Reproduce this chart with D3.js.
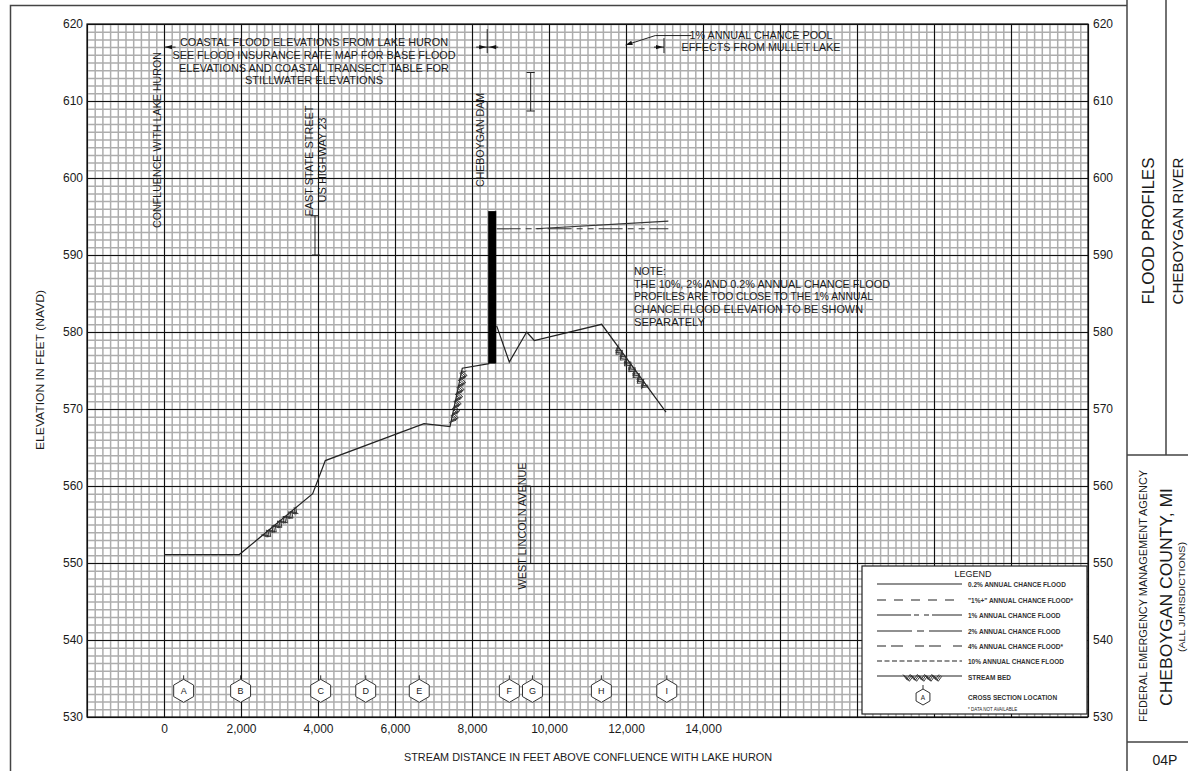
<!DOCTYPE html>
<html><head><meta charset="utf-8">
<script src="https://cdn.jsdelivr.net/npm/d3@7"></script>
<style>
body{margin:0;background:#fff}
svg{display:block;font-family:"Liberation Sans",Arial,sans-serif}
</style></head><body>
<svg id="chart" width="1188" height="771"></svg>
<script>
// Cheboygan River flood profile: stream distance (ft above confluence) and elevation (ft NAVD)
const profileDist = [0, 1956, 3862, 4190, 6753, 7429, 7748, 8449, null, 8641, 8969, 9420, 9618, 11368, 13039];
const profileElev = [551.1, 551.1, 559.0, 563.3, 568.1, 567.7, 575.3, 575.9, null, 580.8, 576.1, 580.0, 578.9, 581.0, 569.6];

// Pool effects above the dam
const poolDist = [8640, 13100];
const poolElev = [593.4, 593.4];
const poolRiseDist = [9650, 13100];
const poolRiseElev = [593.4, 594.4];

// Cheboygan Dam extent
const damDist = [8420, 8630];
const damElev = [575.9, 595.7];

// Stream bed hatching extents (ft)
const bedHatch = [[2540, 3450], [7450, 7740], [11770, 12570]];

// Cross sections
const xsLetters = ["A", "B", "C", "D", "E", "F", "G", "H", "I"];
const xsDist = [510, 1990, 4070, 5240, 6630, 8970, 9570, 11360, 13060];

// Structures: [distance, low elev, high elev]
const bridgeEastState = [3922, 590.0, 595.1];
const bridgeLincoln = [9524, 550.0, 560.0];
const markerUpper = [9524, 608.7, 613.7];
const damLeader = [8395, 600.0, 610.0];

// Axis ticks
const elevTicks = d3.range(530, 621, 10);
const distTicks = d3.range(0, 14001, 2000);

// Legend rows
const legendLabels = ["0.2% ANNUAL CHANCE FLOOD", "\"1%+\" ANNUAL CHANCE FLOOD*", "1% ANNUAL CHANCE FLOOD",
  "2% ANNUAL CHANCE FLOOD", "4% ANNUAL CHANCE FLOOD*", "10% ANNUAL CHANCE FLOOD"];
const legendDash = [null, "9,8", "34,3,5,5,5,3", "35,5,7,5", "9,5,12,12", "5,2.5"];

const svg = d3.select("#chart");
const x = d3.scaleLinear().domain([-2000, 24000]).range([87, 1088]);
const y = d3.scaleLinear().domain([530, 620]).range([717, 24]);
const [x0, x1] = x.range(), [y1, y0] = y.range();
const ink = "#1a1a1a";

// ---------- sheet frame ----------
const frame = svg.append("g").attr("stroke", "#444").attr("stroke-width", 1.5).attr("fill", "none");
frame.append("path").attr("d", "M10.5,771V5.5H1127");
frame.append("path").attr("d", "M1127,0V771M1166,0V455M1127,455H1188M1127,742H1188");

// ---------- grid ----------
const grid = svg.append("g");
function gridX(vals, color, w) {
  grid.append("g").attr("transform", `translate(0,${y1})`)
    .call(d3.axisBottom(x).tickValues(vals).tickSize(-(y1 - y0)).tickFormat(""))
    .call(g => g.select(".domain").remove())
    .selectAll("line").attr("stroke", color).attr("stroke-width", w);
}
function gridY(vals, color, w) {
  grid.append("g").attr("transform", `translate(${x0},0)`)
    .call(d3.axisLeft(y).tickValues(vals).tickSize(-(x1 - x0)).tickFormat(""))
    .call(g => g.select(".domain").remove())
    .selectAll("line").attr("stroke", color).attr("stroke-width", w);
}
gridX(d3.range(-2000, 24001, 200), "#adadad", 1.5);
gridY(d3.range(530, 621, 1), "#adadad", 1.5);
gridX(d3.range(-2000, 24001, 2000), "#111", 1);
gridY(elevTicks, "#111", 1);
svg.append("rect").attr("x", x0).attr("y", y0).attr("width", x1 - x0).attr("height", y1 - y0)
  .attr("fill", "none").attr("stroke", "#111").attr("stroke-width", 1.2);

// ---------- axes labels ----------
function styleAxis(g) {
  g.select(".domain").remove();
  g.selectAll("text").attr("font-size", 12).attr("fill", ink).attr("font-family", "Liberation Sans, Arial, sans-serif");
}
svg.append("g").attr("transform", `translate(${x0},0)`)
  .call(d3.axisLeft(y).tickValues(elevTicks).tickSize(0).tickPadding(4)).call(styleAxis);
svg.append("g").attr("transform", `translate(${x1},0)`)
  .call(d3.axisRight(y).tickValues(elevTicks).tickSize(0).tickPadding(5)).call(styleAxis);
svg.append("g").attr("transform", `translate(0,${y1})`)
  .call(d3.axisBottom(x).tickValues(distTicks).tickSize(0).tickPadding(7).tickFormat(d3.format(","))).call(styleAxis);

// text helper
function label(txt, px, py, size, len, rot, anchor, g) {
  const t = (g || svg).append("text")
    .attr("transform", `translate(${px},${py})` + (rot ? " rotate(-90)" : ""))
    .attr("font-size", size).attr("fill", ink)
    .attr("text-anchor", anchor || "middle").attr("dominant-baseline", "central")
    .text(txt);
  if (len) t.attr("textLength", len).attr("lengthAdjust", "spacingAndGlyphs");
  return t;
}
label("ELEVATION IN FEET (NAVD)", 40, 370, 10.5, 160, true);
label("STREAM DISTANCE IN FEET ABOVE CONFLUENCE WITH LAKE HURON", 588, 757, 10.5, 368);

// ---------- profile ----------
const pts = profileDist.map((d, i) => [d, profileElev[i]]);
const line = d3.line().defined(d => d[0] != null).x(d => x(d[0])).y(d => y(d[1]));
svg.append("path").attr("d", line(pts)).attr("fill", "none").attr("stroke", "#222").attr("stroke-width", 1.2);

// dam
svg.append("rect").attr("x", x(damDist[0])).attr("y", y(damElev[1]))
  .attr("width", x(damDist[1]) - x(damDist[0])).attr("height", y(damElev[0]) - y(damElev[1])).attr("fill", "#000");

// pool lines above dam
svg.append("path").attr("d", line(poolDist.map((d, i) => [d, poolElev[i]])))
  .attr("fill", "none").attr("stroke", "#333").attr("stroke-width", 1.1).attr("stroke-dasharray", "24,5,6,5,6,5");
svg.append("path").attr("d", line(poolRiseDist.map((d, i) => [d, poolRiseElev[i]])))
  .attr("fill", "none").attr("stroke", "#333").attr("stroke-width", 1.1);

// stream bed hatching
const solid = pts.filter(d => d[0] != null);
function elevAt(d) {
  for (let i = 1; i < solid.length; i++) {
    if (d <= solid[i][0]) {
      const a = solid[i - 1], b = solid[i];
      return a[1] + (b[1] - a[1]) * (d - a[0]) / (b[0] - a[0]);
    }
  }
  return solid[solid.length - 1][1];
}
function hatchBand(g, p0, p1, amp) {
  const dx = p1[0] - p0[0], dy = p1[1] - p0[1], L = Math.hypot(dx, dy);
  const ux = dx / L, uy = dy / L;
  let nx = -uy, ny = ux;
  if (ny < 0 || (Math.abs(ny) < 1e-6 && nx < 0)) { nx = -nx; ny = -ny; }
  for (let s = 0; s < 3; s++) {
    const p = [];
    for (let t = s * 1.4, k = 0; t <= L; t += 3.6, k++) {
      const a = (k % 2 ? amp : 0) - 1.5 + s * 0.9;
      p.push([p0[0] + ux * t + nx * a, p0[1] + uy * t + ny * a]);
    }
    g.append("path").attr("d", d3.line()(p)).attr("fill", "none").attr("stroke", "#2a2a2a").attr("stroke-width", 0.9);
  }
}
const hg = svg.append("g");
bedHatch.forEach(([a, b]) => hatchBand(hg, [x(a), y(elevAt(a))], [x(b), y(elevAt(b))], 6));

// ---------- cross sections ----------
function hexagon(g, cx, cy, r, letter, fs) {
  const hp = d3.range(6).map(i => {
    const ang = Math.PI / 3 * i - Math.PI / 2;
    return [cx + r * Math.cos(ang), cy + r * Math.sin(ang)];
  });
  g.append("path").attr("d", d3.line()(hp) + "Z").attr("fill", "#fff").attr("stroke", "#333").attr("stroke-width", 1);
  g.append("line").attr("x1", cx).attr("x2", cx).attr("y1", cy - r).attr("y2", cy - r - 4).attr("stroke", "#333");
  label(letter, cx, cy + 0.5, fs, null, false, "middle", g);
}
const xg = svg.append("g");
xsDist.forEach((d, i) => hexagon(xg, x(d), y(533.4), 11.5, xsLetters[i], 9));

// ---------- structures and annotations ----------
const ag = svg.append("g").attr("stroke", "#222").attr("stroke-width", 1).attr("fill", "none");
function vbar(s, tl, tr, bl, br) {
  const px = x(s[0]);
  ag.append("line").attr("x1", px).attr("x2", px).attr("y1", y(s[1])).attr("y2", y(s[2]));
  if (tl != null) ag.append("line").attr("x1", px - tl).attr("x2", px + tr).attr("y1", y(s[2])).attr("y2", y(s[2]));
  if (bl != null) ag.append("line").attr("x1", px - bl).attr("x2", px + br).attr("y1", y(s[1])).attr("y2", y(s[1]));
}
vbar(bridgeEastState, 4, 4, 3, 5);
vbar(bridgeLincoln, 8, 0, null, null);
vbar(markerUpper, 4, 4, 4, 4);
vbar(damLeader, null, null, null, null);

label("CONFLUENCE WITH LAKE HURON", 157, 140, 10.5, 176, true);
label("EAST STATE STREET", 309, 161, 10.5, 111, true);
label("US HIGHWAY 23", 322, 160, 10.5, 85, true);
label("CHEBOYGAN DAM", 480, 140, 10.5, 94, true);
label("WEST LINCOLN AVENUE", 522, 526, 10.5, 127, true);

// coastal / pool dimension arrows
function arrowHead(px, py, dir) {
  svg.append("path").attr("d", `M${px},${py}l${-7 * dir},-2.2v4.4Z`).attr("fill", "#111");
}
const ya = y(617);
ag.append("line").attr("x1", x(0)).attr("x2", x(300)).attr("y1", ya).attr("y2", ya);
arrowHead(x(0) + 1, ya, -1);
ag.append("line").attr("x1", x(damLeader[0])).attr("x2", x(damLeader[0])).attr("y1", ya - 18).attr("y2", ya + 6);
ag.append("line").attr("x1", x(damLeader[0]) - 11).attr("x2", x(damLeader[0]) + 11).attr("y1", ya).attr("y2", ya);
arrowHead(x(damLeader[0]) - 1, ya, 1);
arrowHead(x(damLeader[0]) + 2, ya, -1);
ag.append("line").attr("x1", x(12987)).attr("x2", x(12987)).attr("y1", ya - 9).attr("y2", ya + 6);
ag.append("line").attr("x1", x(12987) - 10).attr("x2", x(12987)).attr("y1", ya).attr("y2", ya);
arrowHead(x(12987) - 1, ya, 1);
ag.append("path").attr("d", `M${x(11990)},${ya - 2}L${x(12760)},${y(618.5)}H${x(13700)}`);
svg.append("path").attr("d", `M${x(11990)},${ya - 2}l7.2,-0.2l-1.6,-4.2Z`).attr("fill", "#111");

const coastal = ["COASTAL FLOOD ELEVATIONS FROM LAKE HURON", "SEE FLOOD INSURANCE RATE MAP FOR BASE FLOOD",
  "ELEVATIONS AND COASTAL TRANSECT TABLE FOR", "STILLWATER ELEVATIONS"];
const coastalLen = [268, 283, 270, 138];
coastal.forEach((t, i) => label(t, 314, 42 + i * 12.8, 11, coastalLen[i]));
label("1% ANNUAL CHANCE POOL", 761, 35, 11, 143);
label("EFFECTS FROM MULLET LAKE", 761, 47, 11, 159);

const note = ["NOTE:", "THE 10%, 2% AND 0.2% ANNUAL CHANCE FLOOD", "PROFILES ARE TOO CLOSE TO THE 1% ANNUAL",
  "CHANCE FLOOD ELEVATION TO BE SHOWN", "SEPARATELY"];
const noteLen = [32, 256, 239, 229, 71];
note.forEach((t, i) => label(t, 634, 271 + i * 12.7, 11, noteLen[i], false, "start"));

// ---------- legend ----------
const lg = svg.append("g");
lg.append("rect").attr("x", 862).attr("y", 566).attr("width", 225).attr("height", 148)
  .attr("fill", "#fff").attr("stroke", "#222").attr("stroke-width", 1.2);
label("LEGEND", 973, 574, 9, null, false, "middle", lg);
const rowY = [584, 600, 615, 631, 646, 661];
legendLabels.forEach((t, i) => {
  lg.append("line").attr("x1", 877).attr("x2", 962).attr("y1", rowY[i]).attr("y2", rowY[i])
    .attr("stroke", "#222").attr("stroke-width", 1.1).attr("stroke-dasharray", legendDash[i]);
  label(t, 968, rowY[i], 6.5, null, false, "start", lg).attr("font-weight", "bold").attr("fill", "#333");
});
lg.append("line").attr("x1", 877).attr("x2", 962).attr("y1", 676).attr("y2", 676).attr("stroke", "#222").attr("stroke-width", 1.1);
hatchBand(lg, [903, 676], [942, 676], 5);
label("STREAM BED", 968, 677, 6.5, null, false, "start", lg).attr("font-weight", "bold").attr("fill", "#333");
hexagon(lg, 923, 697, 8, "A", 6.5);
label("CROSS SECTION LOCATION", 968, 697, 6.5, null, false, "start", lg).attr("font-weight", "bold").attr("fill", "#333");
label("* DATA NOT AVAILABLE", 968, 709, 4.5, null, false, "start", lg);

// ---------- title block ----------
label("FLOOD PROFILES", 1148, 231, 16, 147, true);
label("CHEBOYGAN RIVER", 1178, 231, 14, 147, true);
label("FEDERAL EMERGENCY MANAGEMENT AGENCY", 1143, 596, 10.5, 252, true);
label("CHEBOYGAN COUNTY, MI", 1166, 597, 17, 218, true);
label("(ALL JURISDICTIONS)", 1181, 597, 9.5, 110, true);
label("04P", 1165, 760, 14, null);
</script>
</body></html>
